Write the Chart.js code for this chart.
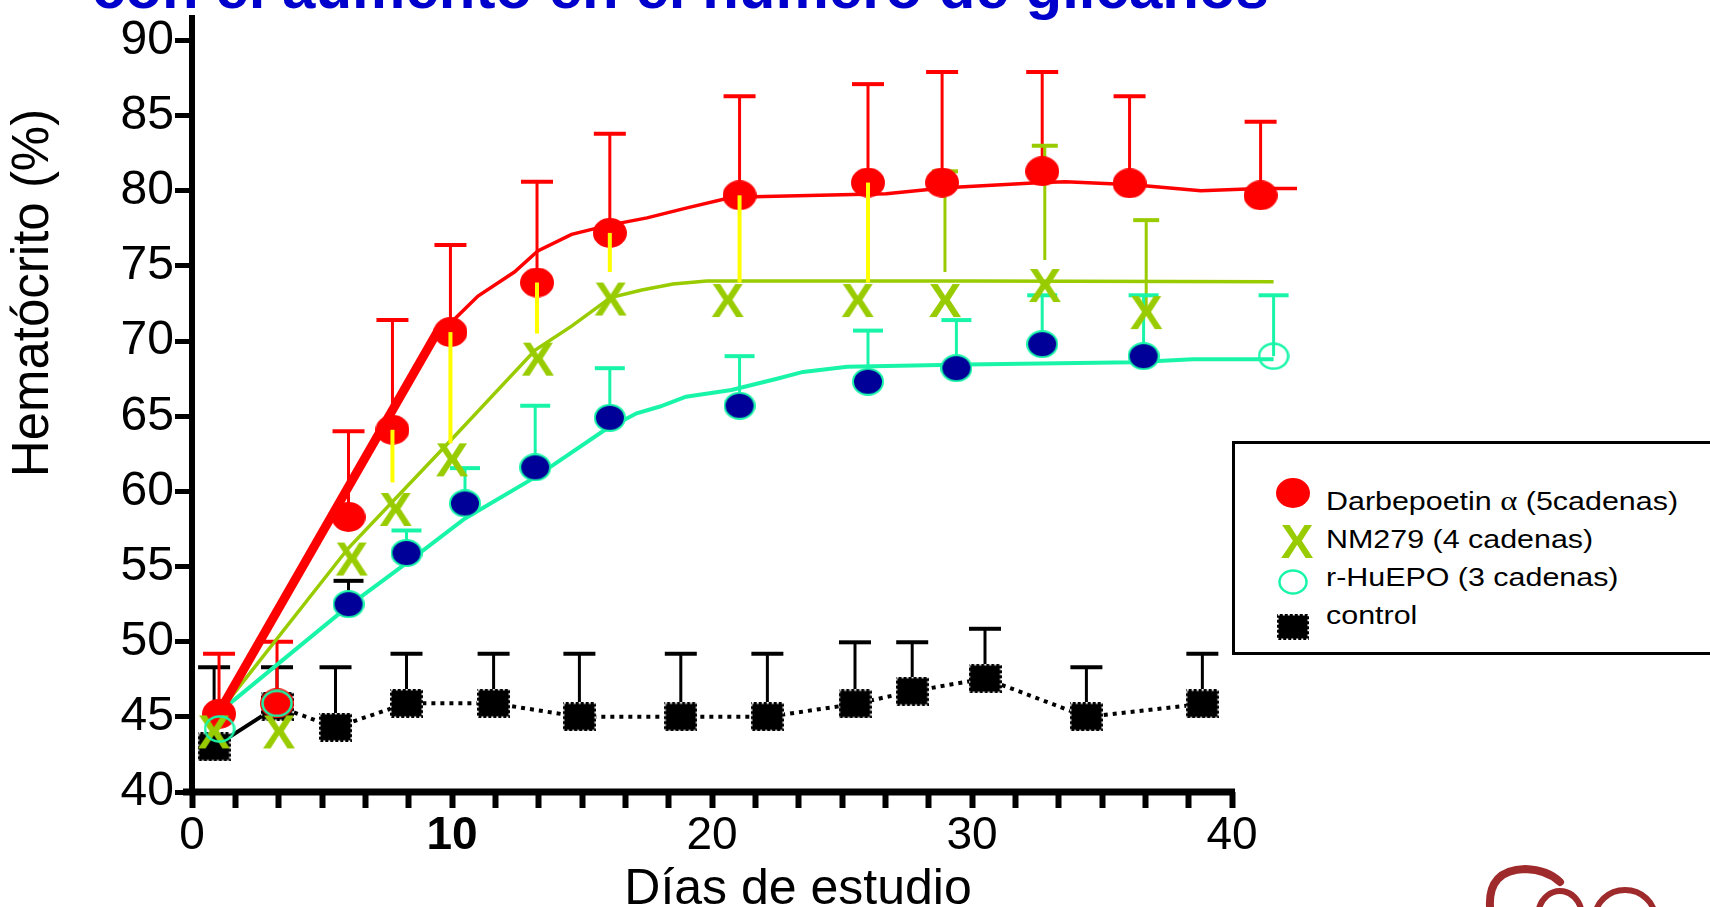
<!DOCTYPE html>
<html>
<head>
<meta charset="utf-8">
<title>Hematócrito</title>
<script src="https://cdn.jsdelivr.net/npm/chart.js@4/dist/chart.umd.min.js"></script>
<style>
  html, body { margin:0; padding:0; background:#fff; width:1710px; height:907px; overflow:hidden; }
  #wrap { position:relative; width:1710px; height:907px; }
  #chart { position:absolute; left:0; top:0; }
  #legend { position:absolute; left:1232px; top:441px; width:600px; height:214px; box-sizing:border-box;
            border:3px solid #000; background:#fff; font-family:"Liberation Sans", Arial, sans-serif; font-size:26px; color:#000; }
  #legend .row { position:absolute; left:91px; height:30px; line-height:30px; white-space:nowrap;
                 transform:scaleX(1.17); transform-origin:0 50%; }
  #legend .al { font-family:"Liberation Serif", "Times New Roman", serif; font-size:28px; }
  #legend canvas { position:absolute; }
</style>
</head>
<body>
<div id="wrap">
  <canvas id="chart" width="1710" height="907"></canvas>
  <div id="legend">
    <div class="row" style="top:42px">Darbepoetin <span class="al">α</span> (5cadenas)</div>
    <div class="row" style="top:80px">NM279 (4 cadenas)</div>
    <div class="row" style="top:118px">r-HuEPO (3 cadenas)</div>
    <div class="row" style="top:156px">control</div>
  </div>
</div>
<script>
// hematocrit vs study day
const xLabelDays = [0, 10, 20, 30, 40];

// Darbepoetin alfa (red)
const redDays   = [1.04, 3.27, 6.02, 7.71, 9.94, 13.27, 16.07, 21.06, 26.0, 28.85, 32.7, 36.06, 41.1];
const redVals   = [45.2, 45.9, 58.3, 64.1, 70.6, 73.9, 77.2, 79.7, 80.55, 80.55, 81.3, 80.5, 79.7];
const redErrTop = [49.2, 50.0, 64.0, 71.4, 76.4, 80.6, 83.8, 86.3, 87.1, 87.9, 87.9, 86.3, 84.6];
const redErrLow = [null, null, null, 60.6, 63.2, 70.5, 74.6, 73.9, 73.9, null, null, null, null];
const redFitX = [1.04, 9.5, 10.0, 11.0, 12.4, 13.3, 14.6, 16.0, 17.5, 19.0, 20.6, 21.6, 26.7, 29.0, 32.7, 33.6, 36.2, 38.8, 41.1, 42.5];
const redFitY = [45.3, 70.8, 71.3, 73.0, 74.6, 76.0, 77.1, 77.7, 78.2, 78.85, 79.5, 79.6, 79.8, 80.2, 80.55, 80.6, 80.4, 80.0, 80.15, 80.15];

// NM279 (yellow-green)
const nmDays    = [0.84, 3.34, 6.14, 7.83, 10.0, 13.3, 16.1, 20.6, 25.6, 28.96, 32.8, 36.7];
const nmVals    = [44.1, 44.1, 55.6, 58.9, 62.2, 68.9, 72.9, 72.8, 72.8, 72.8, 73.8, 72.0];
const nmErrFrom = [null, null, null, null, null, null, null, null, null, 74.6, 75.4, 72.0];
const nmErrTop  = [null, null, null, null, null, null, null, null, null, 81.3, 83.0, 78.05];
const nmFitX = [1.04, 6.0, 9.9, 13.2, 14.6, 16.1, 17.3, 18.5, 19.8, 30.0, 41.6];
const nmFitY = [45.3, 56.2, 63.3, 69.4, 71.0, 72.9, 73.4, 73.8, 74.0, 74.0, 73.95];

// r-HuEPO (navy / aqua)
const epoDays   = [1.06, 3.27, 6.02, 8.25, 10.5, 13.2, 16.07, 21.06, 26.0, 29.4, 32.7, 36.6, 41.6];
const epoVals   = [44.2, 45.9, 52.5, 55.9, 59.2, 61.6, 64.9, 65.7, 67.3, 68.2, 69.8, 69.0, 69.0];
const epoErrTop = [null, null, 54.05, 57.4, 61.55, 65.7, 68.2, 69.0, 70.7, 71.4, 73.05, 73.05, 73.05];
const epoFitX = [1.04, 6.0, 8.3, 10.5, 13.25, 15.8, 17.1, 18.0, 19.0, 20.75, 22.5, 23.5, 25.2, 29.8, 36.2, 38.5, 41.6];
const epoFitY = [45.3, 52.35, 55.3, 58.2, 61.0, 64.0, 65.2, 65.65, 66.3, 66.75, 67.5, 67.95, 68.3, 68.45, 68.6, 68.8, 68.8];

// control (black)
const ctrlDays   = [0.85, 3.27, 5.52, 8.25, 11.6, 14.9, 18.8, 22.13, 25.5, 27.7, 30.5, 34.4, 38.86];
const ctrlVals   = [43.0, 45.7, 44.3, 45.9, 45.9, 45.0, 45.0, 45.0, 45.86, 46.7, 47.55, 45.0, 45.86];
const ctrlErrTop = [48.3, 48.3, 48.3, 49.2, 49.2, 49.2, 49.2, 49.2, 49.96, 49.96, 50.86, 48.3, 49.2];

const RED = '#ff0000', LIME = '#99cc00', YEL = '#ffff00', AQUA = '#19f5a8', NAVY = '#000099';
const pts = (xs, ys) => xs.map((x, i) => ({x, y: ys[i]}));

function mk(w, h, draw) {
  const c = document.createElement('canvas');
  c.width = w; c.height = h;
  draw(c.getContext('2d'), w, h);
  return c;
}
const redDot  = () => mk(34, 30, (g, w, h) => { g.fillStyle = RED; g.beginPath(); g.ellipse(w/2, h/2, w/2, h/2, 0, 0, Math.PI*2); g.fill(); });
const navyDot = () => mk(32, 28, (g, w, h) => { g.fillStyle = NAVY; g.strokeStyle = AQUA; g.lineWidth = 2; g.beginPath(); g.ellipse(w/2, h/2, w/2-1, h/2-1, 0, 0, Math.PI*2); g.fill(); g.stroke(); });
const ring    = (w = 32, h = 28) => mk(w, h, (g) => { g.strokeStyle = AQUA; g.lineWidth = 2.5; g.beginPath(); g.ellipse(w/2, h/2, w/2-1.5, h/2-1.5, 0, 0, Math.PI*2); g.stroke(); });
const cross   = () => mk(36, 38, (g, w, h) => { g.fillStyle = LIME; g.font = 'bold 49px "Liberation Sans", Arial'; g.textAlign = 'center'; g.textBaseline = 'alphabetic'; g.fillText('X', w/2, h/2 + 17.5); });
const square  = (w = 33, h = 29) => mk(w, h, (g) => { g.fillStyle = '#000'; g.fillRect(0, 0, w, h); g.strokeStyle = '#fff'; g.lineWidth = 1.5; g.setLineDash([2, 3]); g.strokeRect(0.75, 0.75, w-1.5, h-1.5); });

const redImg = redDot(), navyImg = navyDot(), ringImg = ring(), xImg = cross(), sqImg = square();

// legend markers
[[redDot(), 58, 49], [cross(), 62, 96], [ring(30, 26), 58, 138], [square(32, 26), 58, 183]].forEach(([c, cx, cy]) => {
  c.style.left = (cx - c.width/2) + 'px';
  c.style.top = (cy - c.height/2) + 'px';
  document.getElementById('legend').appendChild(c);
});

const isLabel = v => xLabelDays.some(d => Math.abs(v - d) < 1e-6);

function vbar(ctx, sx, sy, d, from, to, color, cap, lw) {
  if (from == null || to == null) return;
  const px = sx.getPixelForValue(d), p0 = sy.getPixelForValue(from), p1 = sy.getPixelForValue(to);
  ctx.strokeStyle = color; ctx.lineWidth = lw; ctx.lineCap = 'butt';
  ctx.beginPath(); ctx.moveTo(px, p0); ctx.lineTo(px, p1); ctx.stroke();
  if (cap) { ctx.lineWidth = 4; ctx.beginPath(); ctx.moveTo(px - cap/2, p1); ctx.lineTo(px + cap/2, p1); ctx.stroke(); }
}

const decor = {
  id: 'decor',
  beforeDatasetsDraw(chart) {
    const {ctx, scales: {x, y}} = chart;
    ctx.save();
    // x axis line only runs 0..40
    ctx.strokeStyle = '#000'; ctx.lineWidth = 7;
    ctx.beginPath(); ctx.moveTo(x.getPixelForValue(0) - 9, y.getPixelForValue(40)); ctx.lineTo(x.getPixelForValue(40) + 3, y.getPixelForValue(40)); ctx.stroke();
    ctrlDays.forEach((d, i) => vbar(ctx, x, y, d, ctrlVals[i], ctrlErrTop[i], '#000', 32, 3));
    redDays.forEach((d, i) => vbar(ctx, x, y, d, redVals[i], redErrTop[i], RED, 32, 3));
    nmDays.forEach((d, i) => vbar(ctx, x, y, d, nmErrFrom[i], nmErrTop[i], LIME, 26, 3));
    epoDays.forEach((d, i) => vbar(ctx, x, y, d, epoVals[i], epoErrTop[i], i === 2 ? '#000' : AQUA, 30, 3));
    ctx.restore();
  },
  afterDatasetsDraw(chart) {
    const {ctx, scales: {x, y}} = chart;
    ctx.save();
    redDays.forEach((d, i) => vbar(ctx, x, y, d, redVals[i], redErrLow[i], YEL, 0, 4));
    ctx.restore();
  },
  afterDraw(chart) {
    const {ctx} = chart;
    ctx.save();
    ctx.fillStyle = '#0000cc';
    ctx.font = 'bold 60px "Liberation Sans", Arial';
    ctx.textAlign = 'left'; ctx.textBaseline = 'alphabetic';
    ctx.fillText('con el aumento en el número de glicanos', 92, 8);

    ctx.fillStyle = '#000';
    ctx.font = '51px "Liberation Sans", Arial';
    ctx.textAlign = 'center'; ctx.textBaseline = 'middle';
    ctx.save(); ctx.translate(34, 293); ctx.rotate(-Math.PI/2); ctx.fillText('Hematócrito (%)', 0, 0); ctx.restore();

    ctx.font = '50px "Liberation Sans", Arial';
    ctx.textBaseline = 'alphabetic';
    ctx.fillText('Días de estudio', 798, 904);

    // logo fragment, bottom right
    ctx.strokeStyle = '#9e2a2b'; ctx.lineCap = 'round';
    ctx.lineWidth = 8;
    ctx.beginPath(); ctx.moveTo(1490, 907); ctx.quadraticCurveTo(1488, 870, 1525, 869); ctx.quadraticCurveTo(1548, 870, 1560, 882); ctx.stroke();
    ctx.lineWidth = 6;
    ctx.beginPath(); ctx.ellipse(1560, 916, 22, 25, 0, Math.PI * 1.05, Math.PI * 1.9); ctx.stroke();
    ctx.beginPath(); ctx.ellipse(1625, 918, 30, 28, 0, Math.PI, Math.PI * 2); ctx.stroke();
    ctx.restore();
  }
};

Chart.defaults.font.family = '"Liberation Sans", Arial, sans-serif';

new Chart(document.getElementById('chart'), {
  type: 'scatter',
  data: {
    datasets: [
      { label: 'r-HuEPO (3 cadenas)', data: pts(epoDays, epoVals), order: 0, pointRadius: 14,
        pointStyle: c => (c.dataIndex < 2 || c.dataIndex === epoDays.length - 1) ? ringImg : navyImg },
      { label: 'NM279 (4 cadenas)', data: pts(nmDays, nmVals), order: 1, pointRadius: 14, pointStyle: xImg },
      { label: 'Darbepoetin α (5cadenas)', data: pts(redDays, redVals), order: 2, pointRadius: 14, pointStyle: redImg },
      { label: 'control', data: pts(ctrlDays, ctrlVals), order: 3, pointRadius: 14, pointStyle: sqImg,
        showLine: true, borderColor: '#000', borderWidth: 4,
        segment: { borderDash: c => c.p0DataIndex === 0 ? undefined : [4, 5] } },
      { label: 'ajuste Darbepoetin', data: pts(redFitX, redFitY), order: 4, showLine: true, pointRadius: 0,
        borderColor: RED, borderWidth: 3.5, segment: { borderWidth: c => c.p0DataIndex === 0 ? 9 : undefined } },
      { label: 'ajuste NM279', data: pts(nmFitX, nmFitY), order: 5, showLine: true, pointRadius: 0,
        borderColor: LIME, borderWidth: 3.5 },
      { label: 'ajuste r-HuEPO', data: pts(epoFitX, epoFitY), order: 6, showLine: true, pointRadius: 0,
        borderColor: AQUA, borderWidth: 4 }
    ]
  },
  options: {
    responsive: false,
    animation: false,
    events: [],
    layout: { padding: { top: 12, right: 400, left: 0, bottom: 0 } },
    plugins: { legend: { display: false }, tooltip: { enabled: false } },
    scales: {
      x: {
        type: 'linear', min: 0, max: 43,
        afterBuildTicks: s => { s.ticks = s.ticks.filter(t => t.value <= 40.001); },
        afterFit: s => { s.height = 115; s.paddingLeft = 0; s.paddingRight = 0; },
        ticks: {
          stepSize: 5/3, includeBounds: false, autoSkip: false, maxRotation: 0, color: '#000', padding: 1,
          font: c => ({ size: 46, weight: (c.tick && Math.abs(c.tick.value - 10) < 1e-6) ? 'bold' : 'normal' }),
          callback: v => isLabel(v) ? String(Math.round(v)) : ''
        },
        grid: { drawOnChartArea: false, drawTicks: true, tickLength: 16, tickWidth: 6, tickColor: '#000', color: '#000' },
        border: { display: false }
      },
      y: {
        type: 'linear', min: 40, max: 91.5,
        afterFit: s => { s.width = 192; s.paddingTop = 0; s.paddingBottom = 0; },
        ticks: { stepSize: 5, includeBounds: false, color: '#000', padding: 1, font: { size: 48 } },
        grid: { drawOnChartArea: false, drawTicks: true, tickLength: 17, tickWidth: 5, tickColor: '#000', color: '#000' },
        border: { display: true, color: '#000', width: 6 }
      }
    }
  },
  plugins: [decor]
});
</script>
</body>
</html>
